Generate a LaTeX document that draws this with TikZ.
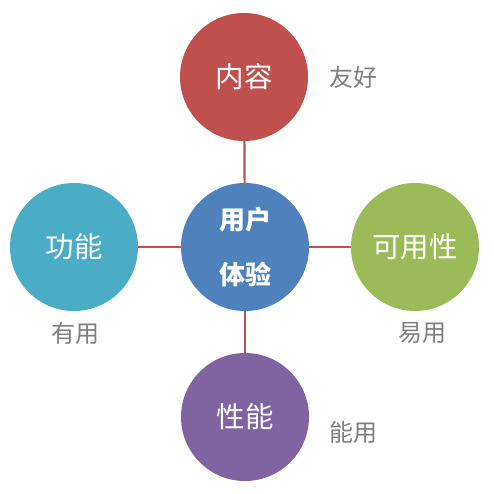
\documentclass[tikz,border=0pt]{standalone}
\usepackage{fontspec}
\newfontfamily\cjk{Noto Sans CJK SC}
\definecolor{hubblue}{HTML}{4F81BD}
\definecolor{leafred}{HTML}{C0504D}
\definecolor{leafteal}{HTML}{4BACC6}
\definecolor{leafgreen}{HTML}{9BBB59}
\definecolor{leafpurple}{HTML}{8064A2}
\definecolor{notegray}{HTML}{7F7F7F}
\begin{document}
\begin{tikzpicture}[x=1pt, y=-1pt,
    leaf/.style={shape=circle, minimum size=128pt, inner sep=0pt, text=white, font=\cjk\fontsize{28.5}{30}\selectfont},
    note/.style={text=notegray, font=\cjk\fontsize{24}{26}\selectfont},
    link/.style={draw=leafred, line width=2.2pt}]
        \useasboundingbox (0,0) rectangle (493,494);
        \node[leaf, fill=hubblue, align=center, font=\cjk\bfseries\fontsize{26}{55}\selectfont] (ux) at (245,247) {用户\\体验};
        \node[leaf, fill=leafred] (content) at (244,77) {内容};
        \node[leaf, fill=leafteal] (func) at (74,247) {功能};
        \node[leaf, fill=leafgreen] (usable) at (415,247) {可用性};
        \node[leaf, fill=leafpurple] (perf) at (245,417) {性能};
        \node[note] (friendly) at (353,77) {友好};
        \node[note] (useful) at (75,333) {有用};
        \node[note] (easy) at (422,333) {易用};
        \node[note] (works) at (353,432) {能用};
        \draw[link] (ux) -- (content);
        \draw[link] (ux) -- (func);
        \draw[link] (ux) -- (usable);
        \draw[link] (ux) -- (perf);
    \end{tikzpicture}
\end{document}
